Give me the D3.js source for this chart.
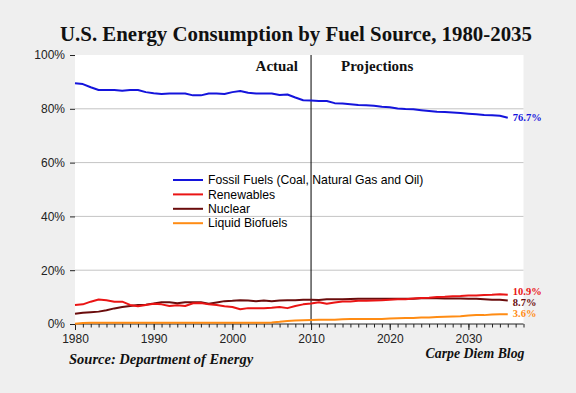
<!DOCTYPE html>
<html>
<head>
<meta charset="utf-8">
<script src="https://cdn.jsdelivr.net/npm/d3@7"></script>
<style>
  html, body { margin: 0; padding: 0; background: #efefef; }
  svg { display: block; }
</style>
</head>
<body>
<script>
// Years 1980-2035
const years = d3.range(1980, 2036);

const fossil = [89.5, 89.2, 88.0, 87.0, 87.0, 87.0, 86.7, 87.0, 87.0, 86.2,
  85.8, 85.5, 85.7, 85.7, 85.7, 85.0, 85.0, 85.7, 85.7, 85.5,
  86.2, 86.6, 86.0, 85.7, 85.7, 85.7, 85.1, 85.3, 84.2, 83.2,
  83.1, 82.9, 82.9, 82.1, 82.0, 81.7, 81.4, 81.3, 81.1, 80.8,
  80.6, 80.1, 79.9, 79.8, 79.5, 79.2, 78.9, 78.8, 78.6, 78.4,
  78.2, 78.0, 77.7, 77.6, 77.4, 76.7];

const renewables = [7.1, 7.3, 8.3, 9.1, 8.8, 8.3, 8.3, 7.1, 6.6, 7.1,
  7.5, 7.3, 6.7, 7.0, 6.7, 7.7, 7.8, 7.3, 7.1, 6.6,
  6.3, 5.5, 5.9, 5.9, 5.9, 6.0, 6.3, 5.9, 6.7, 7.3,
  7.6, 8.1, 7.5, 8.0, 8.4, 8.4, 8.6, 8.6, 8.7, 8.8,
  9.0, 9.2, 9.2, 9.5, 9.7, 9.8, 10.0, 10.1, 10.3, 10.4,
  10.6, 10.6, 10.8, 10.9, 11.1, 10.9];

const nuclear = [3.8, 4.2, 4.4, 4.6, 5.1, 5.8, 6.3, 6.7, 7.1, 7.2,
  7.6, 8.1, 8.1, 7.7, 8.1, 8.1, 8.1, 7.5, 8.0, 8.5,
  8.6, 8.8, 8.7, 8.5, 8.7, 8.5, 8.7, 8.8, 8.8, 9.0,
  9.0, 8.9, 9.2, 9.2, 9.2, 9.3, 9.4, 9.4, 9.4, 9.4,
  9.4, 9.4, 9.4, 9.4, 9.6, 9.7, 9.6, 9.5, 9.5, 9.5,
  9.4, 9.4, 9.2, 9.0, 9.0, 8.7];

const biofuels = [0.1, 0.4, 0.5, 0.5, 0.5, 0.5, 0.5, 0.5, 0.5, 0.5,
  0.5, 0.5, 0.5, 0.5, 0.5, 0.5, 0.5, 0.5, 0.5, 0.5,
  0.5, 0.5, 0.5, 0.5, 0.5, 0.6, 0.8, 1.1, 1.3, 1.4,
  1.5, 1.6, 1.6, 1.6, 1.8, 1.9, 1.9, 1.9, 1.9, 1.9,
  2.0, 2.1, 2.2, 2.2, 2.4, 2.4, 2.6, 2.7, 2.8, 2.9,
  3.2, 3.3, 3.3, 3.5, 3.6, 3.6];

const seriesNames = ["Fossil Fuels (Coal, Natural Gas and Oil)", "Renewables", "Nuclear", "Liquid Biofuels"];
const seriesColors = ["#1414dc", "#ea1414", "#6a0c0c", "#ff8c14"];
const seriesValues = [fossil, renewables, nuclear, biofuels];
const endLabels = ["76.7%", "10.9%", "8.7%", "3.6%"];

const yTicks = [0, 20, 40, 60, 80, 100];
const xTicks = [1980, 1990, 2000, 2010, 2020, 2030];
const splitYear = 2010;

const width = 576, height = 393;
const margin = { top: 55, right: 52.5, bottom: 69, left: 75 };

const svg = d3.select("body").append("svg")
  .attr("width", width)
  .attr("height", height);

const x = d3.scaleLinear().domain([1980, 2037]).range([margin.left, width - margin.right]);
const y = d3.scaleLinear().domain([0, 100]).range([height - margin.bottom, margin.top]);

const sans = "Liberation Sans, Arial, sans-serif";
const serif = "Georgia, Liberation Serif, serif";

// plot background
svg.append("rect")
  .attr("x", x(1980)).attr("y", y(100))
  .attr("width", x(2037) - x(1980)).attr("height", y(0) - y(100))
  .attr("fill", "#fff");

// grid lines
svg.append("g")
  .selectAll("line")
  .data(yTicks.filter((d) => d > 0 && d < 100))
  .join("line")
  .attr("x1", x(1980)).attr("x2", x(2037))
  .attr("y1", (d) => y(d)).attr("y2", (d) => y(d))
  .attr("stroke", "#c4c4c4");

// y axis
svg.append("g")
  .attr("transform", `translate(${margin.left},0)`)
  .call(d3.axisLeft(y).tickValues(yTicks).tickSize(5).tickPadding(5).tickFormat((d) => d + "%"))
  .call((g) => g.select(".domain").remove())
  .call((g) => g.selectAll(".tick line").attr("stroke", "#222"))
  .call((g) => g.selectAll("text").attr("font-family", sans).attr("font-size", 12).attr("fill", "#222"));

// x axis: minor yearly ticks, major every decade
const xAxis = svg.append("g").attr("transform", `translate(0,${y(0)})`);
xAxis.call(d3.axisBottom(x).tickValues(d3.range(1980, 2038)).tickSize(3.5).tickFormat(""))
  .call((g) => g.select(".domain").remove())
  .call((g) => g.selectAll(".tick line").attr("stroke", "#222"));
xAxis.append("g")
  .call(d3.axisBottom(x).tickValues(xTicks).tickSize(6).tickPadding(4).tickFormat(d3.format("d")))
  .call((g) => g.select(".domain").remove())
  .call((g) => g.selectAll(".tick line").attr("stroke", "#222"))
  .call((g) => g.selectAll("text").attr("font-family", sans).attr("font-size", 12).attr("fill", "#222"));
xAxis.append("line")
  .attr("x1", x(1980)).attr("x2", x(2037))
  .attr("stroke", "#222");

// split line
svg.append("line")
  .attr("x1", x(splitYear)).attr("x2", x(splitYear))
  .attr("y1", y(100)).attr("y2", y(0))
  .attr("stroke", "#000");

const line = d3.line()
  .x((d, i) => x(years[i]))
  .y((d) => y(d));

// draw lines bottom-up so fossil is on top
[3, 2, 1, 0].forEach((i) => {
  svg.append("path")
    .datum(seriesValues[i])
    .attr("fill", "none")
    .attr("stroke", seriesColors[i])
    .attr("stroke-width", 2)
    .attr("stroke-linejoin", "round")
    .attr("d", line);
});

// end labels (nudged apart so they don't collide)
const labelY = [76.7, 12.1, 8.1, 4.0];
endLabels.forEach((t, i) => {
  svg.append("text")
    .attr("x", x(2035) + 5)
    .attr("y", y(labelY[i]))
    .attr("dy", "0.33em")
    .attr("font-family", serif)
    .attr("font-size", 10.5)
    .attr("font-weight", "bold")
    .attr("fill", seriesColors[i])
    .text(t);
});

// legend
const legend = svg.append("g").attr("transform", "translate(173,180)");
seriesNames.forEach((name, i) => {
  const row = legend.append("g").attr("transform", `translate(0,${i * 14.4})`);
  row.append("line").attr("x1", 0).attr("x2", 30).attr("stroke", seriesColors[i]).attr("stroke-width", 2);
  row.append("text")
    .attr("x", 35).attr("dy", "0.35em")
    .attr("font-family", sans)
    .attr("font-size", 12.2)
    .attr("fill", "#000")
    .text(name);
});

// Actual / Projections
svg.append("text")
  .attr("x", x(splitYear) - 13).attr("y", 71)
  .attr("text-anchor", "end")
  .attr("font-family", serif).attr("font-weight", "bold").attr("font-size", 15)
  .attr("fill", "#111")
  .text("Actual");
svg.append("text")
  .attr("x", x(splitYear) + 30).attr("y", 71)
  .attr("font-family", serif).attr("font-weight", "bold").attr("font-size", 15)
  .attr("fill", "#111")
  .text("Projections");

// title
const title = svg.append("text")
  .attr("x", 296).attr("y", 41)
  .attr("text-anchor", "middle")
  .attr("font-family", serif).attr("font-weight", "bold").attr("font-size", 20)
  .attr("fill", "#111")
  .text("U.S. Energy Consumption by Fuel Source, 1980-2035");
const tw = title.node().getComputedTextLength();
title.attr("font-size", 20 * 472 / tw);

// footer
svg.append("text")
  .attr("x", 69).attr("y", 364)
  .attr("font-family", serif).attr("font-weight", "bold").attr("font-style", "italic").attr("font-size", 14.5)
  .attr("fill", "#111")
  .text("Source: Department of Energy");
svg.append("text")
  .attr("x", x(2037) + 1).attr("y", 357.5)
  .attr("text-anchor", "end")
  .attr("font-family", serif).attr("font-weight", "bold").attr("font-style", "italic").attr("font-size", 13.8)
  .attr("fill", "#111")
  .text("Carpe Diem Blog");
</script>
</body>
</html>
